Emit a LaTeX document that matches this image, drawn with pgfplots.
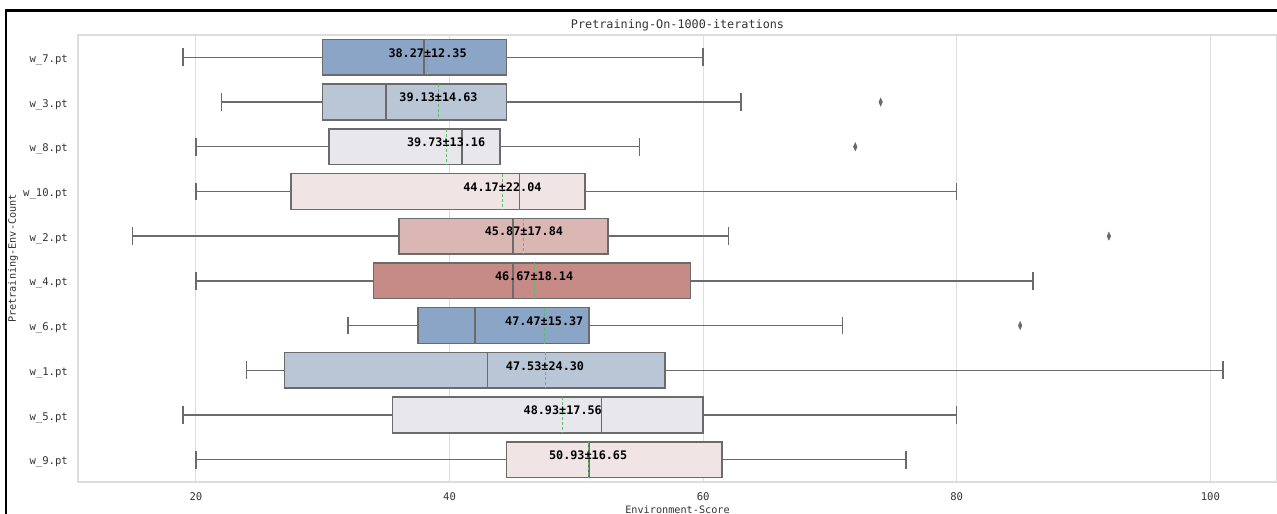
\documentclass[border=0pt]{standalone}
\usepackage{fontspec}
\setmainfont{DejaVu Sans Mono}
\usepackage{pgfplots}
\pgfplotsset{compat=1.18}
\usepgfplotslibrary{statistics}
\definecolor{c1}{HTML}{8AA5C5}
\definecolor{c2}{HTML}{B9C6D5}
\definecolor{c3}{HTML}{E8E8EC}
\definecolor{c4}{HTML}{F1E4E4}
\definecolor{c5}{HTML}{DBB7B4}
\definecolor{c6}{HTML}{C68B87}
\definecolor{edge}{HTML}{6B6B6B}
\definecolor{gridc}{HTML}{DDDDDD}
\definecolor{meanc}{HTML}{5DBB6C}
\definecolor{txt}{HTML}{333333}
\begin{document}
\begin{tikzpicture}
\useasboundingbox (-78pt,-32pt) rectangle (1199pt,482pt);
\draw[line width=2.3pt] (-71.8pt,-40pt) -- (-71.8pt,471.5pt) -- (1210pt,471.5pt);
\begin{axis}[
  at={(0pt,0pt)}, anchor=south west,
  scale only axis, width=1199pt, height=447pt,
  xmin=10.7, xmax=105.26,
  ymin=-0.5, ymax=9.5, y dir=reverse,
  xtick={20,40,60,80,100},
  ytick={0,...,9},
  yticklabels={w\_7.pt,w\_3.pt,w\_8.pt,w\_10.pt,w\_2.pt,w\_4.pt,w\_6.pt,w\_1.pt,w\_5.pt,w\_9.pt},
  major tick length=0pt,
  xmajorgrids, grid style={gridc, line width=1pt},
  axis line style={gridc, line width=1.2pt},
  /pgf/number format/assume math mode=true,
  tick label style={font=\fontsize{10.6}{12}\selectfont, text=txt},
  yticklabel style={anchor=east, inner sep=0pt, xshift=-10pt, yshift=-2.5pt},
  xticklabel style={anchor=center, inner sep=0pt, yshift=-15pt},
  title=Pretraining-On-1000-iterations,
  title style={at={(axis description cs:0.5,1.009)}, anchor=center, font=\fontsize{11.8}{14}\selectfont, text=txt},
  xlabel=Environment-Score,
  xlabel style={at={(axis description cs:0.5,-0.0626)}, anchor=center, font=\fontsize{10.2}{12}\selectfont, text=txt},
  ylabel=Pretraining-Env-Count,
  ylabel style={at={(axis description cs:-0.0542,0.5)}, anchor=center, font=\fontsize{10.2}{12}\selectfont, text=txt},
  boxplot/draw direction=x,
  boxplot/box extend=0.8,
  boxplot/whisker extend=0.4,
  clip=false,
]
\addplot[boxplot prepared={draw position=0, lower whisker=19, lower quartile=30, median=38, upper quartile=44.5, upper whisker=60}, draw=edge, line width=1.5pt, fill=c1] coordinates {};
\addplot[boxplot prepared={draw position=1, lower whisker=22, lower quartile=30, median=35, upper quartile=44.5, upper whisker=63}, draw=edge, line width=1.5pt, fill=c2] coordinates {};
\addplot[boxplot prepared={draw position=2, lower whisker=20, lower quartile=30.5, median=41, upper quartile=44, upper whisker=55}, draw=edge, line width=1.5pt, fill=c3] coordinates {};
\addplot[boxplot prepared={draw position=3, lower whisker=20, lower quartile=27.5, median=45.5, upper quartile=50.7, upper whisker=80}, draw=edge, line width=1.5pt, fill=c4] coordinates {};
\addplot[boxplot prepared={draw position=4, lower whisker=15, lower quartile=36, median=45, upper quartile=52.5, upper whisker=62}, draw=edge, line width=1.5pt, fill=c5] coordinates {};
\addplot[boxplot prepared={draw position=5, lower whisker=20, lower quartile=34, median=45, upper quartile=59, upper whisker=86}, draw=edge, line width=1.5pt, fill=c6] coordinates {};
\addplot[boxplot prepared={draw position=6, lower whisker=32, lower quartile=37.5, median=42, upper quartile=51, upper whisker=71}, draw=edge, line width=1.5pt, fill=c1] coordinates {};
\addplot[boxplot prepared={draw position=7, lower whisker=24, lower quartile=27, median=43, upper quartile=57, upper whisker=101}, draw=edge, line width=1.5pt, fill=c2] coordinates {};
\addplot[boxplot prepared={draw position=8, lower whisker=19, lower quartile=35.5, median=52, upper quartile=60, upper whisker=80}, draw=edge, line width=1.5pt, fill=c3] coordinates {};
\addplot[boxplot prepared={draw position=9, lower whisker=20, lower quartile=44.5, median=51, upper quartile=61.5, upper whisker=76}, draw=edge, line width=1.5pt, fill=c4] coordinates {};
% mean lines
\addplot[meanc, line width=1pt, dash pattern=on 3pt off 2pt, unbounded coords=jump] coordinates {
(38.27,-0.4) (38.27,0.4) (nan,nan)
(39.13,0.6) (39.13,1.4) (nan,nan)
(39.73,1.6) (39.73,2.4) (nan,nan)
(44.17,2.6) (44.17,3.4) (nan,nan)
(45.87,3.6) (45.87,4.4) (nan,nan)
(46.67,4.6) (46.67,5.4) (nan,nan)
(47.47,5.6) (47.47,6.4) (nan,nan)
(47.53,6.6) (47.53,7.4) (nan,nan)
(48.93,7.6) (48.93,8.4) (nan,nan)
(50.93,8.6) (50.93,9.4)
};
% outliers
\addplot[only marks, mark=diamond*, mark size=4pt, mark options={fill=edge, draw=edge, xscale=0.6, line width=0.5pt}] coordinates {(74,1) (72,2) (92,4) (85,6)};
% annotations
\addplot[only marks, mark=none, nodes near coords, point meta=explicit symbolic,
  every node near coord/.append style={font=\bfseries\fontsize{11.8}{14}\selectfont, anchor=center, text=black, inner sep=0pt}]
  table[meta=lab, row sep=\\] {
x y lab\\
38.27 -0.1 38.27±12.35\\
39.13 0.9 39.13±14.63\\
39.73 1.9 39.73±13.16\\
44.17 2.9 44.17±22.04\\
45.87 3.9 45.87±17.84\\
46.67 4.9 46.67±18.14\\
47.47 5.9 47.47±15.37\\
47.53 6.9 47.53±24.30\\
48.93 7.9 48.93±17.56\\
50.93 8.9 50.93±16.65\\
};
\end{axis}
\end{tikzpicture}
\end{document}
